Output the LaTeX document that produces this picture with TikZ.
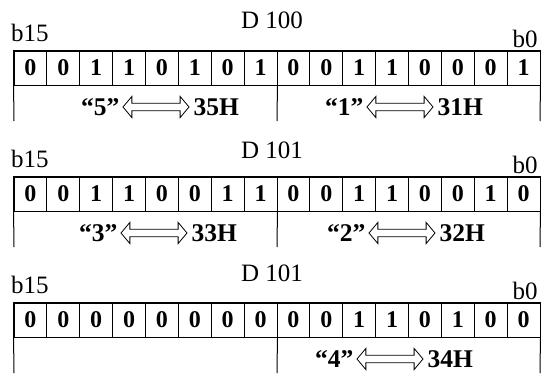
\documentclass[tikz,border=0pt]{standalone}
\usepackage{fontspec}
\setmainfont{Liberation Serif}
\usetikzlibrary{shapes.arrows}
\tikzset{
  bitcell/.style={draw, line width=0.9pt, minimum width=32.875pt, minimum height=34pt, inner sep=0pt,
    font=\fontsize{24}{24}\selectfont\bfseries},
  lbl/.style={font=\fontsize{25.5}{25.5}\selectfont\bfseries, inner sep=0pt},
  ttl/.style={font=\fontsize{25}{25}\selectfont, inner sep=0pt},
  dblarrow/.style={double arrow, draw, line width=0.8pt, minimum height=66pt, inner sep=3.4pt,
    double arrow head extend=6.8pt, double arrow tip angle=100},
  outline/.style={line width=1.6pt},
  tickline/.style={line width=1pt}
}
\newcommand\regrow[5]{% #1 name, #2 top y, #3 bits, #4 title, #5 title y
  \foreach \b [count=\i] in {#3} {
    \node[bitcell] (#1c\i) at ({14+32.875*(\i-0.5)}, #2+17) {\b};
  }
  \draw[outline] (#1c1.north west) rectangle (#1c16.south east);
  \node[ttl] (#1t) at (272, #5) {#4};
  \node[ttl] (#1hi) at (30, #2-18) {b15};
  \node[ttl] (#1lo) at (525, #2-12) {b0};
  \coordinate (#1eL) at (14, #2+70);
  \coordinate (#1eM) at (277, #2+70);
  \coordinate (#1eR) at (540, #2+70);
  \draw[tickline] (#1c1.south west) -- (#1eL);
  \draw[tickline] (#1c8.south east) -- (#1eM);
  \draw[tickline] (#1c16.south east) -- (#1eR);
}
\newcommand\conv[5]{% #1 name, #2 x, #3 y, #4 char, #5 hex
  \node[dblarrow] (#1a) at (#2, #3) {};
  \node[lbl, anchor=east] (#1q) at ([xshift=-3pt]#1a.west) {“#4”};
  \node[lbl, anchor=west] (#1h) at ([xshift=4pt]#1a.east) {#5};
}
\begin{document}
\begin{tikzpicture}[x=1pt, y=-1pt]
  \useasboundingbox (0,0) rectangle (542,376);
  \regrow{ra}{51}{0,0,1,1,0,1,0,1,0,0,1,1,0,0,0,1}{D 100}{20}
  \conv{ra1}{156}{107}{5}{35H}
  \conv{ra2}{400}{107}{1}{31H}
  \regrow{rb}{177}{0,0,1,1,0,0,1,1,0,0,1,1,0,0,1,0}{D 101}{150}
  \conv{rb1}{154}{233}{3}{33H}
  \conv{rb2}{402}{233}{2}{32H}
  \regrow{rc}{303}{0,0,0,0,0,0,0,0,0,0,1,1,0,1,0,0}{D 101}{273}
  \conv{rc1}{390}{359}{4}{34H}
\end{tikzpicture}
\end{document}
